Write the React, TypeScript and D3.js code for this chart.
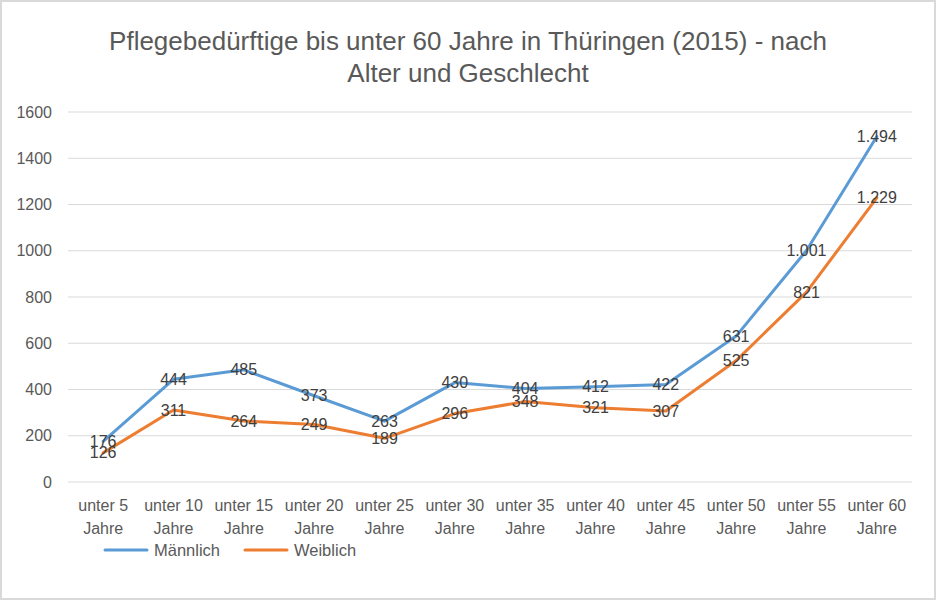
import { useEffect, useRef } from "react";
import * as d3 from "d3";

const CATEGORIES = [
  "unter 5", "unter 10", "unter 15", "unter 20", "unter 25", "unter 30",
  "unter 35", "unter 40", "unter 45", "unter 50", "unter 55", "unter 60",
];
const MAENNLICH = [176, 444, 485, 373, 263, 430, 404, 412, 422, 631, 1001, 1494];
const WEIBLICH = [126, 311, 264, 249, 189, 296, 348, 321, 307, 525, 821, 1229];
const Y_TICKS = [0, 200, 400, 600, 800, 1000, 1200, 1400, 1600];
const SERIES = [
  { name: "Männlich", values: MAENNLICH, color: "#5B9BD5" },
  { name: "Weiblich", values: WEIBLICH, color: "#ED7D31" },
];

const W = 936;
const H = 600;
const margin = { top: 112, right: 24, bottom: 118, left: 68 };
const FONT = "'Liberation Sans', Arial, sans-serif";

// german thousands separator
const fmt = (v: number) => d3.format(",")(v).replace(/,/g, ".");

export default function App() {
  const ref = useRef<SVGSVGElement>(null);

  useEffect(() => {
    const svg = d3.select(ref.current);
    svg.selectAll("*").remove();

    // outer frame
    svg
      .append("rect")
      .attr("x", 1)
      .attr("y", 1)
      .attr("width", W - 2)
      .attr("height", H - 2)
      .attr("fill", "#fff")
      .attr("stroke", "#d9d9d9")
      .attr("stroke-width", 2);

    // title
    const title = svg
      .append("text")
      .attr("text-anchor", "middle")
      .attr("font-family", FONT)
      .attr("font-size", 26)
      .attr("fill", "#595959");
    title.append("tspan").attr("x", 468).attr("y", 50).text("Pflegebedürftige bis unter 60 Jahre in Thüringen (2015) - nach");
    title.append("tspan").attr("x", 468).attr("y", 82).text("Alter und Geschlecht");

    const x = d3
      .scaleBand()
      .domain(CATEGORIES)
      .range([margin.left, W - margin.right]);
    const y = d3
      .scaleLinear()
      .domain([0, 1600])
      .range([H - margin.bottom, margin.top]);

    // gridlines + y labels
    const yAxis = svg.append("g");
    yAxis
      .selectAll("line")
      .data(Y_TICKS)
      .join("line")
      .attr("x1", margin.left)
      .attr("x2", W - margin.right)
      .attr("y1", (d) => y(d))
      .attr("y2", (d) => y(d))
      .attr("stroke", "#d9d9d9")
      .attr("stroke-width", 1);
    yAxis
      .selectAll("text")
      .data(Y_TICKS)
      .join("text")
      .attr("x", 52)
      .attr("y", (d) => y(d))
      .attr("dy", "0.35em")
      .attr("text-anchor", "end")
      .attr("font-family", FONT)
      .attr("font-size", 16)
      .attr("fill", "#595959")
      .text((d) => d);

    // x labels
    const xLabels = svg
      .append("g")
      .selectAll("text")
      .data(CATEGORIES)
      .join("text")
      .attr("text-anchor", "middle")
      .attr("font-family", FONT)
      .attr("font-size", 16)
      .attr("fill", "#595959");
    xLabels
      .append("tspan")
      .attr("x", (d) => x(d)! + x.bandwidth() / 2)
      .attr("y", 511)
      .text((d) => d);
    xLabels
      .append("tspan")
      .attr("x", (d) => x(d)! + x.bandwidth() / 2)
      .attr("y", 534)
      .text("Jahre");

    const line = d3
      .line<number>()
      .x((_, i) => x(CATEGORIES[i])! + x.bandwidth() / 2)
      .y((d) => y(d));

    SERIES.forEach((s) => {
      svg
        .append("path")
        .datum(s.values)
        .attr("d", line)
        .attr("fill", "none")
        .attr("stroke", s.color)
        .attr("stroke-width", 3)
        .attr("stroke-linejoin", "round")
        .attr("stroke-linecap", "round");
    });

    // data labels centered on points
    SERIES.forEach((s) => {
      svg
        .append("g")
        .selectAll("text")
        .data(s.values)
        .join("text")
        .attr("x", (_, i) => x(CATEGORIES[i])! + x.bandwidth() / 2)
        .attr("y", (d) => y(d))
        .attr("dy", "0.35em")
        .attr("text-anchor", "middle")
        .attr("font-family", FONT)
        .attr("font-size", 16)
        .attr("fill", "#404040")
        .text((d) => fmt(d));
    });

    // legend
    const legend = svg
      .append("g")
      .selectAll("g")
      .data(SERIES)
      .join("g")
      .attr("transform", (_, i) => `translate(${105 + i * 140}, 550)`);
    legend
      .append("line")
      .attr("x1", 0)
      .attr("x2", 42)
      .attr("stroke", (d) => d.color)
      .attr("stroke-width", 3)
      .attr("stroke-linecap", "round");
    legend
      .append("text")
      .attr("x", 49)
      .attr("dy", "0.35em")
      .attr("font-family", FONT)
      .attr("font-size", 16.5)
      .attr("fill", "#595959")
      .text((d) => d.name);
  }, []);

  return (
    <svg
      ref={ref}
      width={W}
      height={H}
      style={{ position: "absolute", left: 0, top: 0 }}
    />
  );
}
